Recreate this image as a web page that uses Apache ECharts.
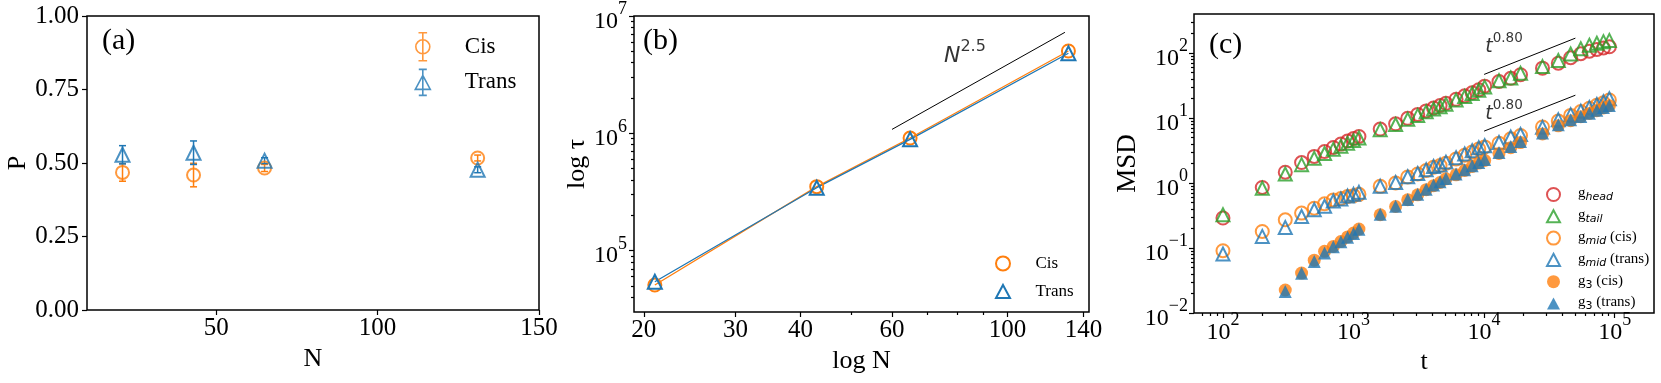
<!DOCTYPE html>
<html><head><meta charset="utf-8">
<script src="https://cdn.jsdelivr.net/npm/echarts@6/dist/echarts.min.js"></script>
<style>html,body{margin:0;padding:0;background:#fff}#c{width:1661px;height:383px}</style>
</head><body><div id="c"></div>
<script>
// ---------- Panel (a): P vs N ----------
const aN = [21, 43, 65, 131];
const aCis = [0.468, 0.459, 0.483, 0.517];
const aCisErr = [0.03, 0.04, 0.012, 0.01];
const aTrans = [0.528, 0.535, 0.508, 0.477];
const aTransErr = [0.031, 0.04, 0.01, 0.01];
const aXTicks = [50, 100, 150];
const aYTicks = [0, 0.25, 0.5, 0.75, 1];

// ---------- Panel (b): tau vs N (log-log) ----------
const bN = [21, 43, 65, 131];
const bCis = [50900, 351000, 912000, 5030000];
const bTrans = [54300, 344000, 889000, 4810000];
const bGuide = [[60, 1.08e6], [129, 7.26e6]];
const bGuideLabelAt = [75.5, 4.84e6];
const bXTicks = [20, 30, 40, 60, 100, 140];
const bXMinor = [50, 70, 80, 90];
const bYTicks = [1e5, 1e6, 1e7];

// ---------- Panel (c): MSD vs t (log-log) ----------
const cT = [100,200,300,400,500,600,700,800,900,1000,1100,1600,2100,2600,3100,3600,4100,4600,5100,6100,7100,8100,9100,10100,13000,16000,19000,28000,37000,46000,55000,64000,73000,82000,91000];
const cHead = [0.29,0.855,1.47,2.07,2.57,3.06,3.53,3.98,4.43,4.86,5.21,6.78,8.17,9.9,11.4,12.9,14.3,15.6,16.9,19.5,22.0,24.5,27.2,31,36.5,41,46.5,58.7,70,85,98,107,114,120,125];
const cTail = [0.325,0.83,1.38,1.92,2.4,2.85,3.3,3.7,4.1,4.5,4.95,6.6,7.95,9.6,11.0,12.5,13.8,15.0,16.3,19.0,21.5,24.0,26.8,30.0,37.5,41.5,49,62,77,97,117,132,142,150,157];
const cMidCis = [0.091,0.18,0.272,0.345,0.41,0.48,0.55,0.58,0.62,0.64,0.67,0.89,1.0,1.24,1.38,1.56,1.75,1.86,2.02,2.35,2.68,3.0,3.35,3.6,4.1,4.8,5.4,7.3,9.0,11.0,12.6,14.2,15.8,17.2,19.0];
const cMidTrans = [0.081,0.151,0.207,0.306,0.388,0.44,0.53,0.57,0.63,0.67,0.72,0.89,1.02,1.25,1.4,1.6,1.8,1.9,2.1,2.45,2.8,3.15,3.5,3.75,4.2,5.1,5.6,7.2,9.4,11.3,12.8,14.5,16.2,17.8,19.8];
const cT3 = [300,400,500,600,700,800,900,1000,1100,1600,2100,2600,3100,3600,4100,4600,5100,6100,7100,8100,9100,10100,13000,16000,19000,28000,37000,46000,55000,64000,73000,82000,91000];
const cG3Cis = [0.0226,0.0412,0.065,0.089,0.106,0.126,0.148,0.17,0.196,0.325,0.436,0.553,0.66,0.79,0.91,1.02,1.16,1.34,1.56,1.8,2.03,2.23,2.85,3.5,4.2,5.7,7.6,9.1,10.5,11.8,13.0,14.3,15.5];
const cG3Trans = [0.0215,0.041,0.062,0.084,0.105,0.125,0.146,0.168,0.194,0.33,0.44,0.56,0.67,0.80,0.93,1.05,1.18,1.38,1.6,1.85,2.08,2.3,2.95,3.66,4.36,5.9,7.9,9.4,10.6,11.9,13.2,14.5,15.6];
const cGuideUp = [[1e4, 47], [5e4, 170]];
const cGuideLo = [[1e4, 6.3], [5e4, 22.5]];
const cLabelUpAt = [10200, 139];
const cLabelLoAt = [10200, 12.7];
const cXTicks = [1e2, 1e3, 1e4, 1e5];
const cYTicks = [1e-2, 1e-1, 1, 10, 100];

// ---------- styling ----------
const SERIF = 'Liberation Serif', SANS = 'DejaVu Sans', K = '#000';
const OR = '#ff7f0e', BL = '#1f77b4', GR = '#2ca02c', RD = '#d62728';
const L10 = Math.log10;
const bXR = [19.15, 143.5], bYR = [30000, 1e7], cXR = [60, 2e5], cYR = [0.01, 400];

function minorTicks(range, majors) {
  const out = [];
  for (let d = -3; d <= 8; d++) for (let k = 2; k <= 9; k++) {
    const v = k * Math.pow(10, d);
    if (v > range[0] * 1.0001 && v < range[1] * 0.9999 && !majors.includes(v)) out.push(v);
  }
  return out;
}
const bYMinor = minorTicks(bYR, bYTicks);
const cXMinor = minorTicks(cXR, cXTicks);
const cYMinor = minorTicks(cYR, cYTicks);

const supRich = (fs, ss, lh) => ({
  b: {fontFamily: SERIF, fontSize: fs, lineHeight: lh, verticalAlign: 'bottom', color: K},
  s: {fontFamily: SERIF, fontSize: ss, lineHeight: ss + 1, verticalAlign: 'top', color: K}
});
const powFmt = v => { const e = Math.round(v); return '{b|10}{s|' + (e < 0 ? '\u2212' : '') + Math.abs(e) + '}'; };

const tickStyle = {color: K, width: 1.2};
function overlay(dim, gi, range, ticks, len, label, name) {
  const ax = {type: 'value', gridIndex: gi, min: L10(range[0]), max: L10(range[1]),
    position: dim === 'x' ? 'bottom' : 'left',
    axisLine: {show: false, onZero: false}, splitLine: {show: false},
    axisTick: {show: true, customValues: ticks.map(L10), length: len, lineStyle: tickStyle},
    axisLabel: label ? Object.assign({customValues: ticks.map(L10)}, label) : {show: false}};
  if (name) Object.assign(ax, name);
  return ax;
}
function nameOpt(text, gap, fs) {
  return {name: text, nameLocation: 'middle', nameGap: gap,
    nameTextStyle: {fontFamily: SERIF, fontSize: fs, color: K}};
}
const hollow = c => ({color: 'transparent', borderColor: c, borderWidth: 2});

function errSeries(xs, ys, es, color) {
  return {type: 'custom', xAxisIndex: 0, yAxisIndex: 0, silent: true, z: 2,
    encode: {x: 0, y: 1},
    data: xs.map((x, i) => [x, ys[i], es[i]]),
    renderItem: (p, api) => {
      const x = api.value(0), y = api.value(1), e = api.value(2);
      const a = api.coord([x, y + e]), b = api.coord([x, y - e]);
      const st = {stroke: color, lineWidth: 1.5};
      return {type: 'group', children: [
        {type: 'line', shape: {x1: a[0], y1: a[1], x2: b[0], y2: b[1]}, style: st},
        {type: 'line', shape: {x1: a[0] - 3.5, y1: a[1], x2: a[0] + 3.5, y2: a[1]}, style: st},
        {type: 'line', shape: {x1: b[0] - 3.5, y1: b[1], x2: b[0] + 3.5, y2: b[1]}, style: st}]};
    }};
}
function textAnchor(xa, ya, pos, rich, text) {
  return {type: 'scatter', xAxisIndex: xa, yAxisIndex: ya, silent: true, symbolSize: 0.1,
    itemStyle: {color: 'transparent'}, data: [pos], z: 6,
    label: {show: true, position: 'right', distance: 0, formatter: text, rich: rich}};
}
const mathRich = (bs, ss) => ({
  m: {fontFamily: SANS, fontStyle: 'italic', fontSize: bs, lineHeight: bs + 6, verticalAlign: 'bottom', color: K},
  s: {fontFamily: SANS, fontSize: ss, lineHeight: ss + 1, verticalAlign: 'top', color: K}
});

const grids = [
  {left: 87, top: 16, width: 452, height: 294},
  {left: 634, top: 16, width: 455, height: 296},
  {left: 1194, top: 14, width: 460, height: 299}
].map(g => Object.assign(g, {show: true, borderColor: K, borderWidth: 1.5, containLabel: false, outerBoundsMode: 'none'}));

const xAxis = [
  Object.assign({type: 'value', gridIndex: 0, min: 10, max: 150, axisLine: {show: false, onZero: false}, splitLine: {show: false},
    axisTick: {customValues: aXTicks, length: 5, lineStyle: tickStyle},
    axisLabel: {customValues: aXTicks, fontFamily: SERIF, fontSize: 25, color: K, margin: 6}}, nameOpt('N', 30, 26)),
  {type: 'log', gridIndex: 1, min: bXR[0], max: bXR[1], show: false},
  overlay('x', 1, bXR, bXTicks, 5, {fontFamily: SERIF, fontSize: 25, color: K, margin: 6,
    formatter: v => String(Math.round(Math.pow(10, v)))}, nameOpt('log N', 26, 26)),
  overlay('x', 1, bXR, bXMinor, 3, null),
  {type: 'log', gridIndex: 2, min: cXR[0], max: cXR[1], show: false},
  overlay('x', 2, cXR, cXTicks, 5, {margin: 15, verticalAlign: 'middle', formatter: powFmt, rich: supRich(24, 18, 33)}, nameOpt('t', 25, 26)),
  overlay('x', 2, cXR, cXMinor, 3, null)
];
const yAxis = [
  Object.assign({type: 'value', gridIndex: 0, min: 0, max: 1, interval: 0.25, axisLine: {show: false, onZero: false}, splitLine: {show: false},
    axisTick: {customValues: aYTicks, length: 5, lineStyle: tickStyle},
    axisLabel: {customValues: aYTicks, fontFamily: SERIF, fontSize: 25, color: K, margin: 8, formatter: v => v.toFixed(2)}}, nameOpt('P', 48, 26)),
  {type: 'log', gridIndex: 1, min: bYR[0], max: bYR[1], show: false},
  overlay('y', 1, bYR, bYTicks, 5, {margin: 7, padding: [2, 0, 0, 0], formatter: powFmt, rich: supRich(24, 18, 33)}, nameOpt('log \u03c4', 39, 26)),
  overlay('y', 1, bYR, bYMinor, 3, null),
  {type: 'log', gridIndex: 2, min: cYR[0], max: cYR[1], show: false},
  overlay('y', 2, cYR, cYTicks, 5, {margin: 6, padding: [2, 0, 0, 0], formatter: powFmt, rich: supRich(24, 18, 33)}, nameOpt('MSD', 45, 27)),
  overlay('y', 2, cYR, cYMinor, 3, null)
];

const pair = (xs, ys) => xs.map((x, i) => [x, ys[i]]);
const series = [
  // (a)
  errSeries(aN, aCis, aCisErr, OR),
  {type: 'scatter', name: 'a-Cis', xAxisIndex: 0, yAxisIndex: 0, data: pair(aN, aCis), symbol: 'circle', symbolSize: 13, itemStyle: hollow(OR), z: 3},
  errSeries(aN, aTrans, aTransErr, BL),
  {type: 'scatter', name: 'a-Trans', xAxisIndex: 0, yAxisIndex: 0, data: pair(aN, aTrans), symbol: 'triangle', symbolSize: 14, itemStyle: hollow(BL), z: 3},
  // (b)
  {type: 'line', name: 'b-Cis', xAxisIndex: 1, yAxisIndex: 1, data: pair(bN, bCis), symbol: 'circle', symbolSize: 13, showAllSymbol: true,
    itemStyle: hollow(OR), lineStyle: {color: OR, width: 1.3}, z: 3},
  {type: 'line', name: 'b-Trans', xAxisIndex: 1, yAxisIndex: 1, data: pair(bN, bTrans), symbol: 'triangle', symbolSize: 14, showAllSymbol: true,
    itemStyle: hollow(BL), lineStyle: {color: BL, width: 1.3}, z: 3},
  {type: 'line', xAxisIndex: 1, yAxisIndex: 1, data: bGuide, symbol: 'none', lineStyle: {color: K, width: 1}, silent: true},
  textAnchor(1, 1, bGuideLabelAt, mathRich(22, 16), '{m|N}{s|2.5}'),
  // (c)
  {type: 'scatter', name: 'head', xAxisIndex: 4, yAxisIndex: 4, data: pair(cT, cHead), symbol: 'circle', symbolSize: 13, itemStyle: hollow(RD)},
  {type: 'scatter', name: 'tail', xAxisIndex: 4, yAxisIndex: 4, data: pair(cT, cTail), symbol: 'triangle', symbolSize: 13, itemStyle: hollow(GR)},
  {type: 'scatter', name: 'midcis', xAxisIndex: 4, yAxisIndex: 4, data: pair(cT, cMidCis), symbol: 'circle', symbolSize: 13, itemStyle: hollow(OR)},
  {type: 'scatter', name: 'midtrans', xAxisIndex: 4, yAxisIndex: 4, data: pair(cT, cMidTrans), symbol: 'triangle', symbolSize: 13, itemStyle: hollow(BL)},
  {type: 'scatter', name: 'g3cis', xAxisIndex: 4, yAxisIndex: 4, data: pair(cT3, cG3Cis), symbol: 'circle', symbolSize: 13, itemStyle: {color: OR}},
  {type: 'scatter', name: 'g3trans', xAxisIndex: 4, yAxisIndex: 4, data: pair(cT3, cG3Trans), symbol: 'triangle', symbolSize: 13, itemStyle: {color: BL}},
  {type: 'line', xAxisIndex: 4, yAxisIndex: 4, data: cGuideUp, symbol: 'none', lineStyle: {color: K, width: 1}, silent: true},
  {type: 'line', xAxisIndex: 4, yAxisIndex: 4, data: cGuideLo, symbol: 'none', lineStyle: {color: K, width: 1}, silent: true},
  textAnchor(4, 4, cLabelUpAt, mathRich(19, 13.5), '{m|t}{s|0.80}'),
  textAnchor(4, 4, cLabelLoAt, mathRich(19, 13.5), '{m|t}{s|0.80}')
];

const cisIcon = 'path://M0,-13L0,13M-4,-13L4,-13M-4,13L4,13M6.5,0A6.5,6.5,0,1,1,-6.5,0A6.5,6.5,0,1,1,6.5,0Z';
const transIcon = 'path://M0,-13L0,13M-4,-13L4,-13M-4,13L4,13M0,-7L7.5,7L-7.5,7Z';
const circIcon = 'path://M7,0A7,7,0,1,1,-7,0A7,7,0,1,1,7,0Z';
const triIcon = 'path://M0,-7L7.5,7L-7.5,7Z';
const cLegendText = {
  head: '{sp|}{g|g}{i|head}', tail: '{sp|}{g|g}{i|tail}',
  midcis: '{sp|}{g|g}{i|mid}{g| (cis)}', midtrans: '{sp|}{g|g}{i|mid}{g| (trans)}',
  g3cis: '{sp|}{g|g}{n|3}{g| (cis)}', g3trans: '{sp|}{g|g}{n|3}{g| (trans)}'
};
const st = (fill, stroke, w) => ({color: fill, borderColor: stroke, borderWidth: w});
const legends = [
  {orient: 'vertical', left: 409.5, top: 27, itemWidth: 15, itemHeight: 28, itemGap: 7, selectedMode: false,
    formatter: n => '{sp|}' + n.slice(2),
    textStyle: {fontFamily: SERIF, fontSize: 23, color: K, rich: {sp: {width: 29.5}}},
    data: [{name: 'a-Cis', icon: cisIcon, itemStyle: st('transparent', OR, 1.6)},
           {name: 'a-Trans', icon: transIcon, itemStyle: st('transparent', BL, 1.6)}]},
  {orient: 'vertical', left: 990, top: 250, itemWidth: 14, itemHeight: 14, itemGap: 11, selectedMode: false,
    formatter: n => '{sp|}' + n.slice(2),
    textStyle: {fontFamily: SERIF, fontSize: 17, color: K, rich: {sp: {width: 20.5}}},
    data: [{name: 'b-Cis', icon: circIcon, itemStyle: st('transparent', OR, 2)},
           {name: 'b-Trans', icon: triIcon, itemStyle: st('transparent', BL, 2)}]},
  {orient: 'vertical', left: 1541, top: 181, itemWidth: 13, itemHeight: 13, itemGap: 4.8, selectedMode: false,
    formatter: n => cLegendText[n],
    textStyle: {fontFamily: SERIF, fontSize: 15, color: K, rich: {
      sp: {width: 13},
      g: {fontFamily: SERIF, fontSize: 15, color: K, lineHeight: 17, verticalAlign: 'top'},
      i: {fontFamily: SANS, fontStyle: 'italic', fontSize: 11, color: K, lineHeight: 12, verticalAlign: 'bottom'},
      n: {fontFamily: SANS, fontSize: 11, color: K, lineHeight: 12, verticalAlign: 'bottom'}}},
    data: [
      {name: 'head', icon: circIcon, itemStyle: st('transparent', RD, 2)},
      {name: 'tail', icon: triIcon, itemStyle: st('transparent', GR, 2)},
      {name: 'midcis', icon: circIcon, itemStyle: st('transparent', OR, 2)},
      {name: 'midtrans', icon: triIcon, itemStyle: st('transparent', BL, 2)},
      {name: 'g3cis', icon: circIcon, itemStyle: st(OR, OR, 0)},
      {name: 'g3trans', icon: triIcon, itemStyle: st(BL, BL, 0)}]}
];

const panelText = (t, l, tp) => ({type: 'text', left: l, top: tp, style: {text: t, font: '30px "' + SERIF + '"', fill: K}});

const chart = echarts.init(document.getElementById('c'), null, {renderer: 'canvas'});
chart.setOption({
  animation: false, backgroundColor: '#fff',
  grid: grids, xAxis: xAxis, yAxis: yAxis, series: series, legend: legends,
  graphic: [panelText('(a)', 102, 26), panelText('(b)', 643, 26), panelText('(c)', 1209, 30)]
});
</script></body></html>
